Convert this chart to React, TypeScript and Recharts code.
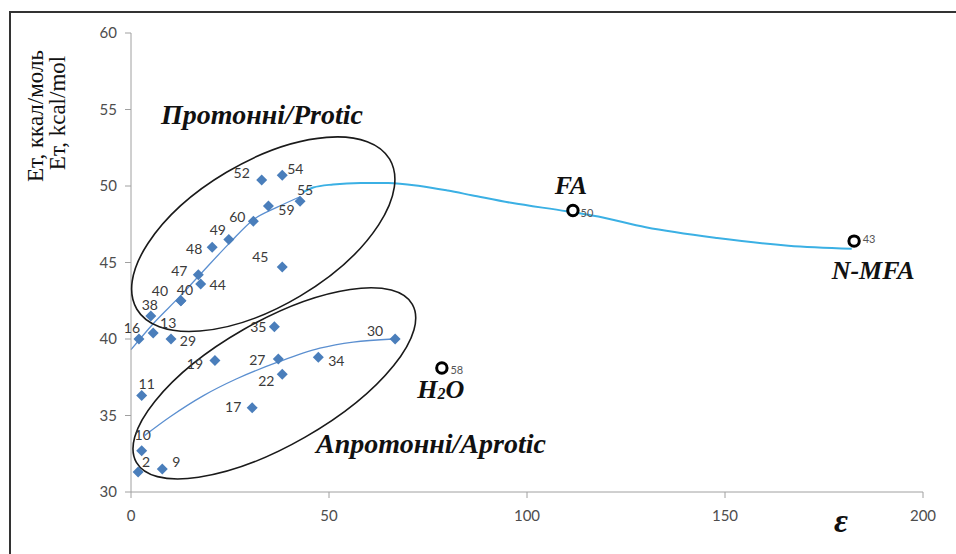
import React from 'react';
import { ComposedChart, XAxis, YAxis, Scatter, Line } from 'recharts';

// ---- data ----
const proticLabels = ['16', '38', '40', '40', '47', '44', '48', '49', '60', '52', '54', '59', '55', '45', '13', '29'];
const proticEps = [2.0, 5.0, 12.6, 12.6, 17.0, 17.6, 20.5, 24.7, 30.9, 33.0, 38.2, 34.7, 42.7, 38.2, 5.6, 10.1];
const proticEt = [40.0, 41.5, 42.5, 42.5, 44.2, 43.6, 46.0, 46.5, 47.7, 50.4, 50.7, 48.7, 49.0, 44.7, 40.4, 40.0];

const aproticLabels = ['30', '27', '34', '22', '19', '17', '11', '10', '2', '9', '35'];
const aproticEps = [66.7, 37.2, 47.3, 38.2, 21.2, 30.6, 2.7, 2.7, 1.8, 7.9, 36.2];
const aproticEt = [40.0, 38.7, 38.8, 37.7, 38.6, 35.5, 36.3, 32.7, 31.3, 31.5, 40.8];

const specialLabels = ['50', '43', '58'];
const specialNames = ['FA', 'N-MFA', 'H2O'];
const specialEps = [111.6, 182.6, 78.5];
const specialEt = [48.4, 46.4, 38.1];

const proticTrendEps = [0, 5.6, 12.4, 17.4, 25, 30.9, 36.8, 42.7];
const proticTrendEt = [39.3, 41.0, 42.8, 44.2, 46.3, 47.8, 48.6, 49.3];

const overallTrendEps = [43.5, 46, 51, 58, 65, 73, 80, 86, 96, 110, 118, 130, 148, 166, 182];
const overallTrendEt = [49.6, 49.9, 50.1, 50.2, 50.2, 50.0, 49.7, 49.4, 48.9, 48.35, 48.0, 47.3, 46.6, 46.1, 45.9];

const aproticTrendEps = [3.5, 9.8, 18.3, 26.7, 37.2, 47.7, 56.1, 66.2];
const aproticTrendEt = [33.7, 34.9, 36.3, 37.4, 38.5, 39.4, 39.8, 40.0];

const groupCenterEps = [33.4, 36.2];
const groupCenterEt = [46.85, 37.1];

const xTicks = [0, 50, 100, 150, 200];
const yTicks = [30, 35, 40, 45, 50, 55, 60];

// ---- label placement (style) ----
const proticLabelOffsets = [
  [-7, -12], [-1, -12], [-21, -10], [4, -11], [-19, -4], [17, 1], [-18, 1], [-11, -10],
  [-16, -5], [-20, -7], [13, -7], [18, 4], [5, -12], [-22, -11], [15, -10], [17, 1],
];
const aproticLabelOffsets = [
  [-20, -9], [-21, 1], [18, 3], [-16, 6], [-20, 3], [-19, -1], [5, -12], [1, -16], [8, -11], [14, -8], [-16, 0],
];
const specialLabelOffsets = [[14, 2], [15, -3], [15, 1]];
const specialNameOffsets = [[-2, -25], [19, 29], [-1, 21]];
const ellipseStyles = [
  { rx: 147, ry: 72, angle: -30.7 },
  { rx: 159, ry: 62, angle: -29.8 },
];

const zip = (xs: number[], ys: number[]) => xs.map((x, i) => ({ x, y: ys[i] }));

const proticData = proticEps.map((x, i) => ({ x, y: proticEt[i], label: proticLabels[i], off: proticLabelOffsets[i] }));
const aproticData = aproticEps.map((x, i) => ({ x, y: aproticEt[i], label: aproticLabels[i], off: aproticLabelOffsets[i] }));
const specialData = specialEps.map((x, i) => ({
  x, y: specialEt[i], label: specialLabels[i], name: specialNames[i], off: specialLabelOffsets[i], noff: specialNameOffsets[i],
}));
const groupData = groupCenterEps.map((x, i) => ({ x, y: groupCenterEt[i], st: ellipseStyles[i] }));

const BLUE = '#4a7ebb';
const NUM_FONT = 'Lato, "Open Sans", sans-serif';
const SERIF = '"Liberation Serif", "DejaVu Serif", serif';

const Diamond = (props: any) => {
  const { cx, cy, payload } = props;
  if (cx == null || cy == null) return null;
  const h = 5.5;
  const [dx, dy] = payload.off;
  return (
    <g>
      <path d={`M${cx},${cy - h}L${cx + h},${cy}L${cx},${cy + h}L${cx - h},${cy}Z`} fill={BLUE} />
      <text x={cx + dx} y={cy + dy} textAnchor="middle" dominantBaseline="central" fontFamily={NUM_FONT} fontSize={14} fill="#3a3a3a">
        {payload.label}
      </text>
    </g>
  );
};

const OpenCircle = (props: any) => {
  const { cx, cy, payload } = props;
  if (cx == null || cy == null) return null;
  const [dx, dy] = payload.off;
  const [nx, ny] = payload.noff;
  const common = {
    x: cx + nx, y: cy + ny, textAnchor: 'middle' as const, dominantBaseline: 'central' as const,
    fontFamily: SERIF, fontSize: 26, fontWeight: 'bold', fontStyle: 'italic', fill: '#111',
  };
  const nameEl = payload.name === 'H2O' ? (
    <text {...common}>
      H<tspan fontSize={16} dy={4}>2</tspan><tspan dy={-4}>O</tspan>
    </text>
  ) : (
    <text {...common}>{payload.name}</text>
  );
  return (
    <g>
      <circle cx={cx} cy={cy} r={5.2} fill="#fff" stroke="#000" strokeWidth={3} />
      <text x={cx + dx} y={cy + dy} textAnchor="middle" dominantBaseline="central" fontFamily={NUM_FONT} fontSize={11} fill="#555">
        {payload.label}
      </text>
      {nameEl}
    </g>
  );
};

const GroupEllipse = (props: any) => {
  const { cx, cy, payload } = props;
  if (cx == null || cy == null) return null;
  const { rx, ry, angle } = payload.st;
  return (
    <ellipse cx={cx} cy={cy} rx={rx} ry={ry} transform={`rotate(${angle} ${cx} ${cy})`} fill="none" stroke="#1a1a1a" strokeWidth={1.6} />
  );
};

export default function App() {
  return (
    <div style={{ position: 'absolute', left: 0, top: 0, width: 956, height: 554, background: '#fff', overflow: 'hidden' }}>
      <div style={{ position: 'absolute', left: 9, top: 11, width: 1000, height: 600, borderLeft: '2px solid #333', borderTop: '2px solid #333' }} />
      <div style={{ position: 'absolute', left: 0, top: 0 }}>
        <ComposedChart width={956} height={554} margin={{ top: 33, right: 33, left: 71, bottom: 32 }}>
          <XAxis
            type="number"
            dataKey="x"
            domain={[0, 200]}
            ticks={xTicks}
            height={30}
            tickSize={6}
            tickMargin={12}
            stroke="#a0a0a0"
            tick={{ fill: '#4d4d4d', fontSize: 15, fontFamily: NUM_FONT }}
          />
          <YAxis
            type="number"
            dataKey="y"
            domain={[30, 60]}
            ticks={yTicks}
            width={60}
            tickSize={6}
            tickMargin={8}
            stroke="#a0a0a0"
            tick={{ fill: '#4d4d4d', fontSize: 15, fontFamily: NUM_FONT }}
          />
          <Scatter data={groupData} shape={GroupEllipse} isAnimationActive={false} />
          <Line data={zip(proticTrendEps, proticTrendEt)} dataKey="y" type="monotone" stroke="#5b8fd0" strokeWidth={1.3} dot={false} isAnimationActive={false} />
          <Line data={zip(aproticTrendEps, aproticTrendEt)} dataKey="y" type="monotone" stroke="#5b8fd0" strokeWidth={1.3} dot={false} isAnimationActive={false} />
          <Line data={zip(overallTrendEps, overallTrendEt)} dataKey="y" type="monotone" stroke="#3bb0e4" strokeWidth={2} dot={false} isAnimationActive={false} />
          <Scatter data={proticData} shape={Diamond} isAnimationActive={false} />
          <Scatter data={aproticData} shape={Diamond} isAnimationActive={false} />
          <Scatter data={specialData} shape={OpenCircle} isAnimationActive={false} />
        </ComposedChart>
      </div>
      <svg width={956} height={554} style={{ position: 'absolute', left: 0, top: 0, pointerEvents: 'none' }}>
        <text transform="translate(35,116) rotate(-90)" textAnchor="middle" dominantBaseline="central" fontFamily={SERIF} fontSize={23} fill="#111">
          Eт, ккал/моль
        </text>
        <text transform="translate(57,113) rotate(-90)" textAnchor="middle" dominantBaseline="central" fontFamily={SERIF} fontSize={23} fill="#111">
          Eт, kcal/mol
        </text>
        <text x={262} y={114} textAnchor="middle" dominantBaseline="central" fontFamily={SERIF} fontSize={28} fontWeight="bold" fontStyle="italic" fill="#111">
          Протонні/Protic
        </text>
        <text x={431} y={443} textAnchor="middle" dominantBaseline="central" fontFamily={SERIF} fontSize={28} fontWeight="bold" fontStyle="italic" fill="#111">
          Апротонні/Aprotic
        </text>
        <text x={841} y={520} textAnchor="middle" dominantBaseline="central" fontFamily={SERIF} fontSize={34} fontWeight="bold" fontStyle="italic" fill="#111">
          ε
        </text>
      </svg>
    </div>
  );
}
